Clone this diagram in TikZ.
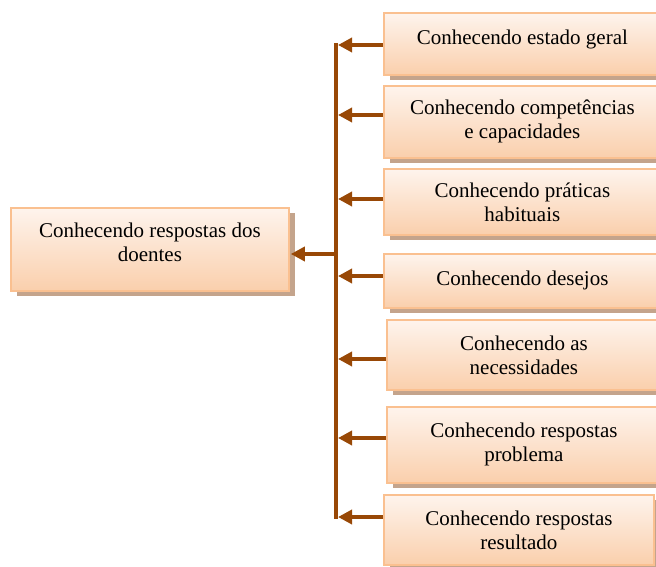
\documentclass[tikz,border=0pt]{standalone}
\usepackage{fontspec}
\setmainfont{Liberation Serif}
\usetikzlibrary{arrows.meta,shadows}
\definecolor{brd}{RGB}{250,192,144}
\definecolor{topc}{RGB}{254,244,237}
\definecolor{botc}{RGB}{250,207,172}
\definecolor{arrc}{RGB}{152,72,6}
\definecolor{shd}{RGB}{196,164,140}
\begin{document}
\begin{tikzpicture}[x=1pt,y=-1pt,
  box/.style={draw=brd,line width=1.8pt,top color=topc,bottom color=botc,
    align=center,font=\fontsize{21}{24}\selectfont,inner sep=0pt,anchor=north west,
    general shadow={fill=shd,shadow xshift=6pt,shadow yshift=-5pt}},
  conn/.style={draw=arrc,line width=4pt,-{Triangle[length=14pt,width=14pt]}},
  trunkline/.style={draw=arrc,line width=4pt}]
\useasboundingbox (0,0) rectangle (656,567);
\node[box,minimum width=278pt,minimum height=83pt] (L) at (10,207) {\raisebox{5pt}[\height][\depth]{\begin{tabular}{@{}c@{}}Conhecendo respostas dos\\doentes\end{tabular}}};
\node[box,minimum width=277pt,minimum height=62pt] (b1) at (383,12) {\raisebox{4pt}[\height][\depth]{Conhecendo estado geral}};
\node[box,minimum width=277pt,minimum height=72pt] (b2) at (383,85) {Conhecendo competências\\e capacidades};
\node[box,minimum width=277pt,minimum height=66pt] (b3) at (383,168) {Conhecendo práticas\\habituais};
\node[box,minimum width=277pt,minimum height=54pt] (b4) at (383,253) {Conhecendo desejos};
\node[box,minimum width=274pt,minimum height=70pt] (b5) at (386,319) {Conhecendo as\\necessidades};
\node[box,minimum width=274pt,minimum height=76pt] (b6) at (386,406) {Conhecendo respostas\\problema};
\node[box,minimum width=270pt,minimum height=70pt,general shadow={}] (b7) at (383,494) {Conhecendo respostas\\resultado};
\coordinate (trunk) at (336,254);
\draw[trunkline] (trunk |- 0,43) -- (trunk |- 0,519);
\foreach \b/\y in {b1/45,b2/115,b3/199,b4/276,b5/359,b6/438,b7/517}{
  \draw[conn] (\b.west |- 0,\y) -- ([xshift=2pt]trunk |- 0,\y);
}
\draw[conn] ([xshift=-2pt]trunk) -- ([xshift=1pt]L.east |- trunk);
\end{tikzpicture}
\end{document}
